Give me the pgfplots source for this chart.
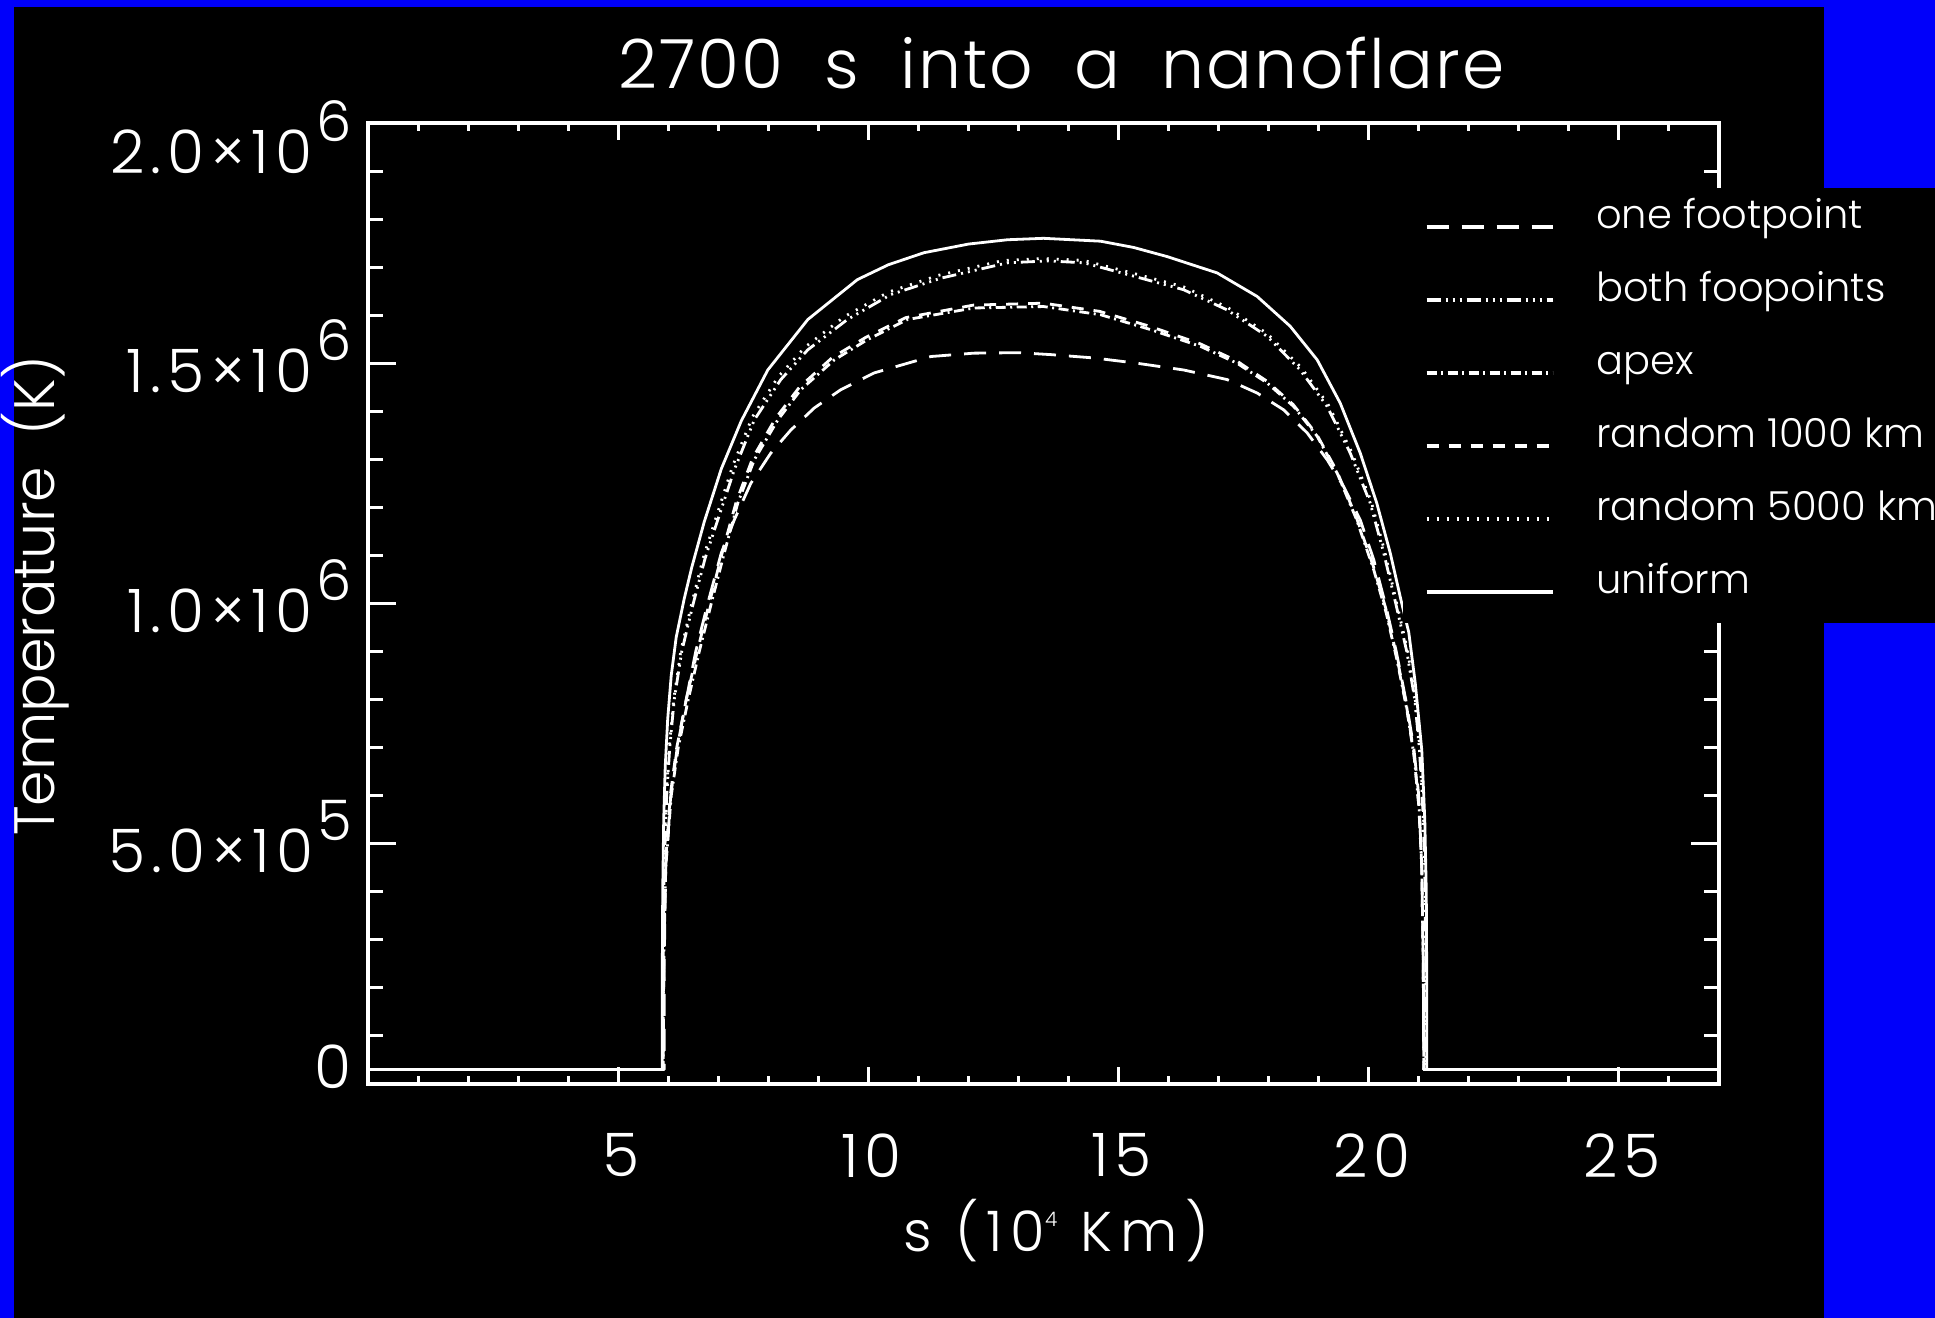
\documentclass[border=0pt]{standalone}
\usepackage{pgfplots}
\pgfplotsset{compat=1.18}
\usepackage{fontspec}
\setmainfont{Poppins}[UprightFont={* Light}, WordSpace=2]
\newfontfamily\legendfont{Poppins}[UprightFont={* Light}]

\definecolor{idlblue}{RGB}{0,0,250}

\newcommand\ticksize{\fontsize{30}{32}\selectfont\addfontfeatures{LetterSpace=10}}
\newcommand\expo[1]{\hspace{2pt}\raisebox{16pt}{\fontsize{28}{28}\selectfont #1}}

\tikzset{
  curve/.style={white, line width=1.4pt, line join=round},
  onefoot/.style={curve, dash pattern=on 11pt off 6.5pt},
  bothfoot/.style={curve, dash pattern=on 7pt off 2.5pt on 1pt off 2.5pt on 1pt off 2.5pt on 1pt off 2.5pt},
  apexheat/.style={curve, dash pattern=on 5pt off 2.25pt on 1pt off 2.25pt},
  randone/.style={curve, dash pattern=on 6pt off 5pt},
  randfive/.style={curve, dash pattern=on 1pt off 4pt},
  uniformheat/.style={curve, solid},
}

\pgfplotsset{
  idlframe/.style={
    scale only axis, width=675.5pt, height=480.5pt,
    at={(184pt,117pt)}, anchor=south west,
    xmin=0, xmax=27, ymin=0, ymax=2,
    axis line style={white, line width=1.6pt},
    tick style={white, line width=1.5pt},
    tick align=inside,
    xtick pos=both, ytick pos=both,
    tick label style={text=white, font=\ticksize},
    label style={text=white},
    title style={text=white},
    every axis title shift=0pt,
  },
}

\begin{document}
\begin{tikzpicture}
\useasboundingbox (0,0) rectangle (967.5pt,659pt);
\fill[idlblue] (0,0) rectangle (967.5pt,659pt);
\fill[black] (7pt,0) rectangle (912pt,655.5pt);

% frame carrying the temperature ticks
\begin{axis}[idlframe,
  xtick=\empty,
  ytick={0,0.5,1,1.5,2},
  minor ytick={0.1,0.2,0.3,0.4,0.6,0.7,0.8,0.9,1.1,1.2,1.3,1.4,1.6,1.7,1.8,1.9},
  major tick length=14pt, minor tick length=7.5pt,
  yticklabels={\raisebox{12pt}{0}, 5.0×10\expo{5}, 1.0×10\expo{6}, 1.5×10\expo{6}, \raisebox{-11pt}{2.0×10\expo{6}}},
  yticklabel style={anchor=base east, inner sep=0pt, xshift=-8pt, yshift=-14.5pt},
]
\end{axis}

% temperature profiles along the loop
\begin{axis}[idlframe,
  ytick=\empty,
  xtick={5,10,15,20,25},
  xticklabels={5,10,15,20,25},
  minor xtick={0,1,...,27},
  major tick length=8.5pt, minor tick length=4pt,
  xticklabel style={anchor=north, inner sep=0pt, yshift=-24.5pt, xshift=1.5pt},
  title={2700 s into a nanoflare},
  title style={at={(axis description cs:0.1850,1.0354)}, anchor=base west, inner sep=0pt,
    font=\fontsize{34}{36}\selectfont\addfontfeatures{LetterSpace=3}},
  xlabel={s (10\raisebox{12.5pt}{\fontsize{10}{10}\selectfont 4} Km)},
  xlabel style={at={(axis description cs:0.5093,-0.1748)}, anchor=base, inner sep=0pt,
    font=\legendfont\fontsize{28}{30}\selectfont\addfontfeatures{LetterSpace=14}},
  ylabel={Temperature (K)},
  ylabel style={at={(axis description cs:-0.2317,0.5083)}, anchor=base, inner sep=0pt, font=\fontsize{28.5}{30}\selectfont},
  legend image code/.code={\draw[#1, line width=1.6pt] (0pt,1pt) -- (63pt,1pt);},
  legend style={at={(0.7661,0.9324)}, anchor=north west, fill=black, draw=none, text=white,
    inner xsep=11pt, inner ysep=10.5pt, outer sep=0pt,
    row sep=22.5pt, column sep=21pt,
    font=\legendfont\fontsize{20}{22}\selectfont,
    nodes={inner sep=0pt, text height=10pt, text depth=4pt},
    cells={anchor=base west}},
]
\addplot[onefoot] coordinates {
 (0,0.03) (5.92,0.03) (5.92,0.25) (5.95,0.45) (6.05,0.60) (6.18,0.70) (6.36,0.80)
 (6.55,0.90) (6.79,1.000) (7.06,1.105) (7.32,1.174) (7.65,1.250) (8.05,1.313)
 (8.45,1.361) (8.92,1.407) (9.45,1.445) (10.12,1.480) (11.25,1.514) (12.11,1.521)
 (13.00,1.522) (13.64,1.518) (14.51,1.511) (15.37,1.500) (16.30,1.486) (17.17,1.466)
 (17.77,1.438) (18.30,1.403) (18.77,1.355) (19.17,1.299) (19.50,1.243) (19.83,1.174)
 (20.10,1.091) (20.33,1.00) (20.55,0.90) (20.74,0.80) (20.90,0.70) (21.00,0.60)
 (21.06,0.45) (21.09,0.25) (21.10,0.03) (27,0.03)};
\addlegendentry{one footpoint}
\addplot[bothfoot] coordinates {
 (0,0.03) (5.90,0.03) (5.90,0.25) (5.92,0.45) (5.97,0.60) (6.03,0.70) (6.12,0.80)
 (6.27,0.90) (6.50,1.00) (6.74,1.095) (6.99,1.174) (7.32,1.278) (7.72,1.382)
 (8.25,1.466) (8.79,1.528) (9.58,1.591) (10.45,1.643) (11.45,1.677) (12.78,1.709)
 (13.60,1.713) (14.31,1.709) (15.31,1.681) (16.30,1.653) (17.17,1.611) (17.97,1.556)
 (18.63,1.486) (19.17,1.410) (19.63,1.313) (20.03,1.209) (20.30,1.105) (20.54,1.00)
 (20.76,0.90) (20.92,0.80) (21.01,0.70) (21.07,0.60) (21.12,0.45) (21.14,0.25)
 (21.14,0.03) (27,0.03)};
\addlegendentry{both foopoints}
\addplot[apexheat] coordinates {
 (0,0.03) (5.90,0.03) (5.91,0.25) (5.95,0.45) (6.06,0.60) (6.20,0.70) (6.40,0.80)
 (6.62,0.90) (6.86,1.00) (7.12,1.105) (7.39,1.209) (7.72,1.299) (8.19,1.382)
 (8.65,1.445) (9.32,1.507) (9.98,1.549) (10.78,1.591) (12.11,1.615) (13.50,1.618)
 (14.64,1.601) (15.64,1.570) (16.64,1.535) (17.37,1.500) (17.97,1.459) (18.50,1.410)
 (18.97,1.348) (19.37,1.271) (19.76,1.174) (20.10,1.070) (20.35,0.98) (20.57,0.88)
 (20.76,0.78) (20.91,0.68) (21.01,0.57) (21.06,0.45) (21.09,0.25) (21.10,0.03)
 (27,0.03)};
\addlegendentry{apex}
\addplot[randone] coordinates {
 (0,0.03) (5.90,0.03) (5.91,0.25) (5.94,0.45) (6.04,0.60) (6.17,0.70) (6.36,0.80)
 (6.58,0.90) (6.82,1.00) (7.09,1.110) (7.36,1.212) (7.69,1.303) (8.15,1.386)
 (8.62,1.450) (9.28,1.512) (9.95,1.554) (10.75,1.595) (12.10,1.621) (13.50,1.625)
 (14.62,1.608) (15.62,1.577) (16.62,1.541) (17.36,1.505) (17.96,1.463) (18.49,1.414)
 (18.96,1.352) (19.36,1.276) (19.75,1.180) (20.09,1.078) (20.34,0.99) (20.56,0.89)
 (20.75,0.79) (20.90,0.69) (21.00,0.58) (21.06,0.45) (21.09,0.25) (21.10,0.03)
 (27,0.03)};
\addlegendentry{random 1000 km}
\addplot[randfive] coordinates {
 (0,0.03) (5.89,0.03) (5.89,0.25) (5.91,0.45) (5.96,0.60) (6.02,0.70) (6.11,0.80)
 (6.25,0.90) (6.47,1.00) (6.70,1.095) (6.96,1.180) (7.28,1.284) (7.68,1.388)
 (8.20,1.472) (8.74,1.534) (9.52,1.597) (10.40,1.648) (11.40,1.683) (12.70,1.714)
 (13.50,1.718) (14.30,1.714) (15.30,1.687) (16.30,1.659) (17.18,1.616) (17.98,1.561)
 (18.65,1.491) (19.19,1.414) (19.65,1.317) (20.05,1.212) (20.32,1.108) (20.56,1.00)
 (20.78,0.90) (20.93,0.80) (21.02,0.70) (21.08,0.60) (21.13,0.45) (21.15,0.25)
 (21.15,0.03) (27,0.03)};
\addlegendentry{random 5000 km}
\addplot[uniformheat] coordinates {
 (0,0.03) (5.88,0.03) (5.88,0.20) (5.89,0.40) (5.91,0.55) (5.94,0.66) (5.99,0.76)
 (6.06,0.85) (6.16,0.93) (6.32,1.01) (6.47,1.075) (6.72,1.17) (7.06,1.28) (7.46,1.38)
 (7.99,1.486) (8.79,1.591) (9.78,1.674) (10.40,1.705) (11.11,1.730) (12.00,1.748)
 (12.78,1.757) (13.50,1.760) (14.64,1.754) (15.30,1.741) (15.97,1.722) (16.97,1.688)
 (17.77,1.639) (18.43,1.577) (18.97,1.507) (19.43,1.417) (19.83,1.313) (20.16,1.209)
 (20.43,1.105) (20.66,1.00) (20.80,0.94) (20.93,0.834) (21.06,0.695) (21.12,0.55)
 (21.15,0.40) (21.16,0.20) (21.16,0.03) (27,0.03)};
\addlegendentry{uniform}
\end{axis}
\end{tikzpicture}
\end{document}
